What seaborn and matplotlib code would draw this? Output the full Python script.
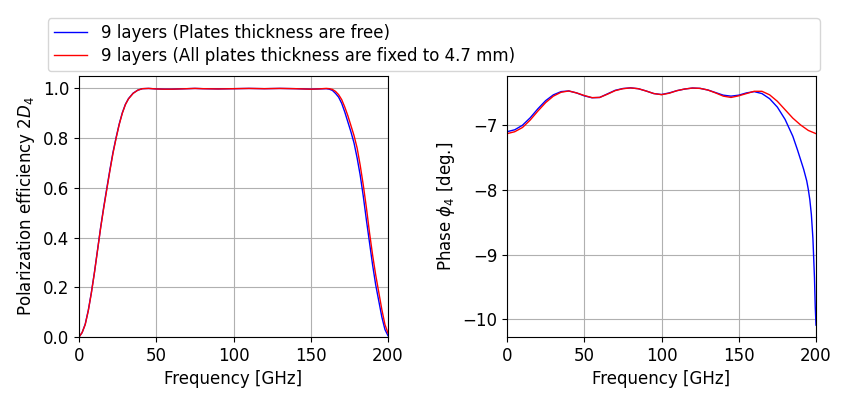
import numpy as np
import pandas as pd
import matplotlib
matplotlib.use('Agg')
import matplotlib.pyplot as plt
import seaborn as sns


# Data
freq_eff = [0, 2, 4, 6, 8, 10, 12, 14, 16, 18,
            20, 22, 24, 26, 28, 30, 32, 35, 38, 41,
            45, 50, 55, 60, 65, 70, 75, 80, 90, 100,
            110, 120, 130, 140, 150, 155, 160, 162, 164, 166,
            168, 170, 172, 174, 176, 178, 180, 182, 184, 186,
            188, 190, 192, 194, 196, 198, 200]

eff_free = [0.0, 0.018, 0.052, 0.108, 0.18, 0.262, 0.352, 0.442, 0.524, 0.6,
            0.674, 0.744, 0.803, 0.857, 0.902, 0.936, 0.959, 0.981, 0.993, 0.999,
            1.0, 0.998, 0.997, 0.997, 0.998, 0.999, 1.0, 0.999, 0.998, 0.999,
            1.0, 0.999, 1.0, 0.999, 0.997, 0.998, 0.999, 0.997, 0.992, 0.98,
            0.965, 0.94, 0.905, 0.865, 0.825, 0.78, 0.72, 0.65, 0.565, 0.47,
            0.38, 0.29, 0.21, 0.145, 0.08, 0.03, 0.005]

eff_fixed = [0.0, 0.018, 0.05, 0.106, 0.178, 0.26, 0.35, 0.44, 0.52, 0.595,
             0.67, 0.74, 0.80, 0.855, 0.90, 0.935, 0.958, 0.98, 0.993, 0.999,
             1.0, 0.998, 0.997, 0.997, 0.998, 0.999, 1.0, 0.999, 0.998, 0.999,
             1.0, 0.999, 1.0, 0.999, 0.997, 0.998, 1.0, 0.999, 0.996, 0.988,
             0.975, 0.955, 0.925, 0.89, 0.85, 0.81, 0.76, 0.69, 0.61, 0.52,
             0.42, 0.33, 0.25, 0.18, 0.11, 0.05, 0.015]

freq_ph_free = [0, 5, 10, 15, 20, 25, 30, 35, 40, 45,
                50, 55, 60, 65, 70, 75, 80, 85, 90, 95,
                100, 105, 110, 115, 120, 125, 130, 135, 140, 145,
                150, 155, 160, 165, 170, 175, 180, 185, 188, 190,
                192, 194, 195, 196, 197, 198, 199, 199.5, 200]

phase_free = [-7.10, -7.07, -7.00, -6.885, -6.745, -6.62, -6.53, -6.48, -6.47, -6.50,
              -6.545, -6.575, -6.57, -6.515, -6.46, -6.432, -6.422, -6.435, -6.47, -6.51,
              -6.525, -6.50, -6.465, -6.44, -6.425, -6.43, -6.455, -6.495, -6.535, -6.55,
              -6.535, -6.50, -6.48, -6.51, -6.59, -6.72, -6.91, -7.17, -7.38, -7.53,
              -7.68, -7.86, -7.99, -8.15, -8.38, -8.75, -9.35, -9.8, -10.09]

freq_ph_fixed = [0, 5, 10, 15, 20, 25, 30, 35, 40, 45,
                 50, 55, 60, 65, 70, 75, 80, 85, 90, 95,
                 100, 105, 110, 115, 120, 125, 130, 135, 140, 145,
                 150, 155, 160, 165, 170, 175, 180, 185, 190, 195,
                 200]

phase_fixed = [-7.13, -7.10, -7.035, -6.92, -6.78, -6.65, -6.55, -6.49, -6.47, -6.50,
               -6.54, -6.573, -6.57, -6.52, -6.465, -6.435, -6.423, -6.435, -6.47, -6.51,
               -6.527, -6.505, -6.465, -6.44, -6.425, -6.43, -6.455, -6.50, -6.55, -6.57,
               -6.545, -6.51, -6.475, -6.475, -6.53, -6.63, -6.76, -6.89, -6.995, -7.08,
               -7.13]

label_free = '9 layers (Plates thickness are free)'
label_fixed = '9 layers (All plates thickness are fixed to 4.7 mm)'

plt.rcParams['font.size'] = 12

fig, axes = plt.subplots(1, 2, figsize=(8.5, 4), dpi=100)
fig.subplots_adjust(left=0.093, right=0.96, bottom=0.1575, top=0.81, wspace=0.385)

# Efficacite de polarisation
sns.lineplot(x=freq_eff, y=eff_free, color='blue', lw=1, label=label_free,
             estimator=None, legend=False, ax=axes[0])
sns.lineplot(x=freq_eff, y=eff_fixed, color='red', lw=1, label=label_fixed,
             estimator=None, legend=False, ax=axes[0])
axes[0].set_xlim(0, 200)
axes[0].set_ylim(0, 1.05)
axes[0].set_xlabel('Frequency [GHz]')
axes[0].set_ylabel('Polarization efficiency $2D_4$')
axes[0].grid(True)

# Phase
sns.lineplot(x=freq_ph_free, y=phase_free, color='blue', lw=1,
             estimator=None, legend=False, ax=axes[1])
sns.lineplot(x=freq_ph_fixed, y=phase_fixed, color='red', lw=1,
             estimator=None, legend=False, ax=axes[1])
axes[1].set_xlim(0, 200)
axes[1].set_xlabel('Frequency [GHz]')
axes[1].set_ylabel('Phase $\\phi_4$ [deg.]')
axes[1].grid(True)

# Legende commune au-dessus des deux graphes
handles, labels = axes[0].get_legend_handles_labels()
fig.legend(handles, labels, loc='lower left', mode='expand', ncol=1,
           bbox_to_anchor=(0.0565, 0.8225, 0.908, 0.13), borderaxespad=0,
           labelspacing=0.3, borderpad=0.35)

fig.savefig('out.png', dpi=100)
